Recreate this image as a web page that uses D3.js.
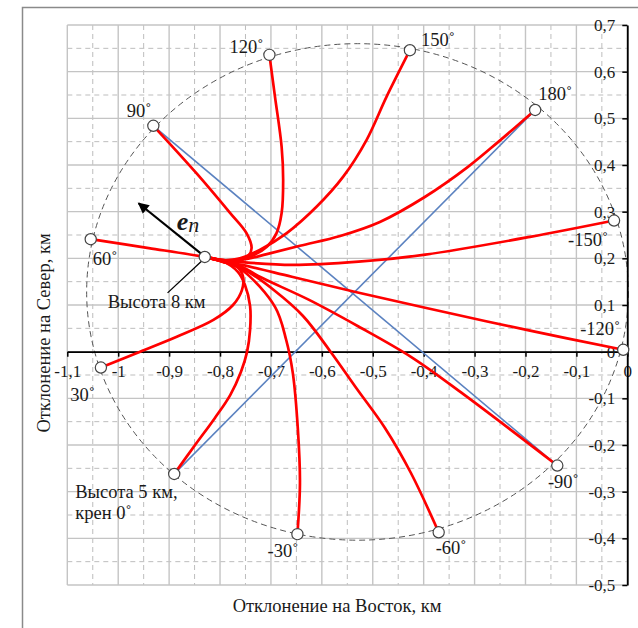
<!DOCTYPE html>
<html>
<head>
<meta charset="utf-8">
<script src="https://cdn.jsdelivr.net/npm/d3@7"></script>
<style>
  body { margin: 0; background: #fff; }
  svg { display: block; }
  text { font-family: "Liberation Serif", "Times New Roman", serif; fill: #1a1a1a; }
</style>
</head>
<body>
<svg id="chart" width="638" height="628"></svg>
<script>
// Axis ticks and their printed labels (comma decimal separator)
const xTicks = [-1.1, -1.0, -0.9, -0.8, -0.7, -0.6, -0.5, -0.4, -0.3, -0.2, -0.1, 0];
const xTickLabels = ["-1,1", "-1", "-0,9", "-0,8", "-0,7", "-0,6", "-0,5", "-0,4", "-0,3", "-0,2", "-0,1", "0"];
const yTicks = [-0.5, -0.4, -0.3, -0.2, -0.1, 0, 0.1, 0.2, 0.3, 0.4, 0.5, 0.6, 0.7];
const yTickLabels = ["-0,5", "-0,4", "-0,3", "-0,2", "-0,1", "0", "0,1", "0,2", "0,3", "0,4", "0,5", "0,6", "0,7"];
const xMinor = [-1.05, -0.95, -0.85, -0.75, -0.65, -0.55, -0.45, -0.35, -0.25, -0.15, -0.05];
const yMinor = [-0.45, -0.35, -0.25, -0.15, -0.05, 0.05, 0.15, 0.25, 0.35, 0.45, 0.55, 0.65];

// Point at 8 km altitude where all descents start (east, north), km
const startPoint = [-0.830, 0.203];
// Tip of the normal vector e_n drawn from the start point
const normalTip = [-0.960, 0.318];
// End of the leader line for the "Высота 8 км" caption
const captionLeader = [-0.903, 0.126];

// Guide circle through the 5 km landing points
const ringCenter = [-0.530, 0.128];
const ringRadius = 0.532;

// Bank angles of the trajectories
const bankAngles = ["60", "90", "120", "150", "180", "-150", "-120", "-90", "-60", "-30", "0", "30"];

// Ground tracks from 8 km down to 5 km (east, north), km
const track60 = [[-0.795, 0.195], [-0.830, 0.203], [-0.940, 0.222], [-1.054, 0.241]];
const track90 = [[-0.830, 0.203], [-0.795, 0.196], [-0.761, 0.198], [-0.744, 0.206], [-0.738, 0.222],
  [-0.748, 0.254], [-0.780, 0.297], [-0.846, 0.382], [-0.931, 0.484]];
const track120 = [[-0.830, 0.203], [-0.795, 0.196], [-0.741, 0.204], [-0.708, 0.225], [-0.689, 0.254],
  [-0.679, 0.297], [-0.676, 0.368], [-0.679, 0.439], [-0.692, 0.546], [-0.703, 0.636]];
const track150 = [[-0.830, 0.203], [-0.795, 0.196], [-0.761, 0.200], [-0.722, 0.218], [-0.669, 0.254],
  [-0.610, 0.311], [-0.558, 0.375], [-0.512, 0.454], [-0.473, 0.546], [-0.427, 0.646]];
const track180 = [[-0.830, 0.203], [-0.795, 0.196], [-0.755, 0.197], [-0.708, 0.209], [-0.643, 0.227],
  [-0.564, 0.248], [-0.486, 0.278], [-0.397, 0.332], [-0.313, 0.396], [-0.254, 0.449], [-0.181, 0.518]];
const trackM150 = [[-0.830, 0.203], [-0.795, 0.195], [-0.771, 0.193], [-0.659, 0.186], [-0.528, 0.193],
  [-0.397, 0.208], [-0.191, 0.246], [-0.026, 0.281]];
const trackM120 = [[-0.830, 0.203], [-0.795, 0.194], [-0.757, 0.186], [-0.659, 0.1605], [-0.538, 0.129],
  [-0.397, 0.094], [-0.191, 0.045], [-0.008, 0.004]];
const trackM90 = [[-0.830, 0.203], [-0.795, 0.193], [-0.757, 0.182], [-0.725, 0.162], [-0.627, 0.112],
  [-0.528, 0.054], [-0.4235, -0.012], [-0.322, -0.091], [-0.1375, -0.244]];
const trackM60 = [[-0.830, 0.203], [-0.795, 0.193], [-0.751, 0.175], [-0.692, 0.130], [-0.637, 0.0765],
  [-0.584, 0.0015], [-0.531, -0.080], [-0.476, -0.1635], [-0.425, -0.260], [-0.3705, -0.387]];
const trackM30 = [[-0.830, 0.203], [-0.795, 0.193], [-0.757, 0.175], [-0.692, 0.096], [-0.670, 0.025],
  [-0.657, -0.046], [-0.647, -0.168], [-0.643, -0.282], [-0.648, -0.391]];
const track0 = [[-0.830, 0.203], [-0.795, 0.194], [-0.765, 0.171], [-0.751, 0.143], [-0.741, 0.098],
  [-0.741, 0.0465], [-0.747, -0.001], [-0.759, -0.0435], [-0.780, -0.093], [-0.810, -0.142],
  [-0.849, -0.200], [-0.890, -0.262]];
const track30 = [[-0.830, 0.203], [-0.795, 0.195], [-0.769, 0.184], [-0.755, 0.162], [-0.757, 0.132],
  [-0.7745, 0.100], [-0.813, 0.068], [-0.885, 0.032], [-0.957, 0.000], [-1.034, -0.034]];

const tracks = [track60, track90, track120, track150, track180, trackM150,
  trackM120, trackM90, trackM60, trackM30, track0, track30];

// Straight reference lines between opposite landing points
const chords = [[track90[track90.length - 1], trackM90[trackM90.length - 1]],
                [track0[track0.length - 1], track180[track180.length - 1]]];

// ---------------------------------------------------------------------------
const svg = d3.select("#chart");
const x = d3.scaleLinear().domain([-1.1, 0]).range([67.3, 627.3]);
const y = d3.scaleLinear().domain([-0.5, 0.7]).range([585, 25]);
const [x0, x1] = x.range();
const [y0, y1] = y.range();
const labelSize = 18.5;

// outer chart frame
svg.append("rect").attr("x", 22.5).attr("y", 7.5).attr("width", 700).attr("height", 700)
  .attr("fill", "none").attr("stroke", "#8a8a8a").attr("stroke-width", 1.5);

// minor dashed grid
const grid = svg.append("g");
grid.selectAll(".vminor").data(xMinor).join("line")
  .attr("x1", d => x(d)).attr("x2", d => x(d)).attr("y1", y1).attr("y2", y0)
  .attr("stroke", "#bdbdbd").attr("stroke-width", 1).attr("stroke-dasharray", "5,4");
grid.selectAll(".hminor").data(yMinor).join("line")
  .attr("y1", d => y(d)).attr("y2", d => y(d)).attr("x1", x0).attr("x2", x1)
  .attr("stroke", "#bdbdbd").attr("stroke-width", 1).attr("stroke-dasharray", "5,4");
// major solid grid
grid.selectAll(".vmajor").data(xTicks).join("line")
  .attr("x1", d => x(d)).attr("x2", d => x(d)).attr("y1", y1).attr("y2", y0)
  .attr("stroke", "#c4c4c4").attr("stroke-width", 1.4);
grid.selectAll(".hmajor").data(yTicks).join("line")
  .attr("y1", d => y(d)).attr("y2", d => y(d)).attr("x1", x0).attr("x2", x1)
  .attr("stroke", "#c4c4c4").attr("stroke-width", 1.4);

// guide circle
svg.append("ellipse")
  .attr("cx", x(ringCenter[0])).attr("cy", y(ringCenter[1]))
  .attr("rx", x(ringCenter[0] + ringRadius) - x(ringCenter[0]))
  .attr("ry", y(ringCenter[1]) - y(ringCenter[1] + ringRadius))
  .attr("fill", "none").attr("stroke", "#555").attr("stroke-width", 1)
  .attr("stroke-dasharray", "6,4");

// axes crossing at zero
const xAxis = d3.axisBottom(x).tickValues(xTicks).tickFormat((d, i) => xTickLabels[i])
  .tickSizeInner(5).tickSizeOuter(0).tickPadding(8);
const gx = svg.append("g").attr("transform", `translate(0,${y(0)})`).call(xAxis);
const yAxis = d3.axisLeft(y).tickValues(yTicks).tickFormat((d, i) => yTickLabels[i])
  .tickSizeInner(5).tickSizeOuter(0).tickPadding(7);
const gy = svg.append("g").attr("transform", `translate(${x(0)},0)`).call(yAxis);
[gx, gy].forEach(g => {
  g.select(".domain").attr("stroke", "#000").attr("stroke-width", 1.8);
  g.selectAll(".tick line").attr("stroke", "#000").attr("stroke-width", 1.5);
  g.selectAll(".tick text").attr("font-family", "Liberation Serif, serif").attr("font-size", 17)
    .attr("fill", "#1a1a1a");
});

// chord lines
svg.append("g").selectAll("line").data(chords).join("line")
  .attr("x1", d => x(d[0][0])).attr("y1", d => y(d[0][1]))
  .attr("x2", d => x(d[1][0])).attr("y2", d => y(d[1][1]))
  .attr("stroke", "#5b82c0").attr("stroke-width", 1.6);

// trajectories
const line = d3.line().x(d => x(d[0])).y(d => y(d[1])).curve(d3.curveCatmullRom.alpha(0.5));
svg.append("g").selectAll("path").data(tracks).join("path")
  .attr("d", line).attr("fill", "none").attr("stroke", "#ff0000")
  .attr("stroke-width", 2.7).attr("stroke-linecap", "round");

// normal vector e_n
svg.append("defs").append("marker").attr("id", "head")
  .attr("viewBox", "0 0 10 10").attr("refX", 9).attr("refY", 5)
  .attr("markerWidth", 6).attr("markerHeight", 5).attr("markerUnits", "strokeWidth")
  .attr("orient", "auto")
  .append("path").attr("d", "M0,0 L10,5 L0,10 Z").attr("fill", "#000");
svg.append("line")
  .attr("x1", x(startPoint[0]) - 4).attr("y1", y(startPoint[1]) - 3.5)
  .attr("x2", x(normalTip[0])).attr("y2", y(normalTip[1]))
  .attr("stroke", "#000").attr("stroke-width", 2.2).attr("marker-end", "url(#head)");
const en = svg.append("text").attr("x", x(startPoint[0]) - 28).attr("y", y(startPoint[1]) - 27);
en.append("tspan").text("e").attr("font-weight", "bold").attr("font-style", "italic").attr("font-size", 26);
en.append("tspan").text("n").attr("font-style", "italic").attr("font-size", 22).attr("dy", 2);

// caption leader for the 8 km point
svg.append("line")
  .attr("x1", x(startPoint[0]) - 3).attr("y1", y(startPoint[1]) + 4)
  .attr("x2", x(captionLeader[0])).attr("y2", y(captionLeader[1]))
  .attr("stroke", "#000").attr("stroke-width", 1.3);

// endpoint markers
const ends = tracks.map(t => t[t.length - 1]);
svg.append("g").selectAll("circle").data(ends.concat([startPoint])).join("circle")
  .attr("cx", d => x(d[0])).attr("cy", d => y(d[1])).attr("r", 5.6)
  .attr("fill", "#fff").attr("stroke", "#444").attr("stroke-width", 1.2);

// bank angle labels, placed around each landing point (pixel offsets)
const labelLayout = [
  { dx: 2, dy: 26, anchor: "start" },    // 60
  { dx: -2, dy: -9, anchor: "end" },     // 90
  { dx: -6, dy: -2, anchor: "end" },     // 120
  { dx: 11, dy: -4, anchor: "start" },   // 150
  { dx: 3, dy: -10, anchor: "start" },   // 180
  { dx: -6, dy: 25, anchor: "end" },     // -150
  { dx: -3, dy: -15, anchor: "end" },    // -120
  { dx: 6, dy: 22, anchor: "middle" },   // -90
  { dx: -3, dy: 22, anchor: "start" },   // -60
  { dx: 1, dy: 23, anchor: "end" },      // -30
  null,                                  // 0 has its own caption
  { dx: -6, dy: 33, anchor: "end" }      // 30
];
bankAngles.forEach((a, i) => {
  const L = labelLayout[i];
  if (!L) return;
  const p = ends[i];
  svg.append("text").attr("x", x(p[0]) + L.dx).attr("y", y(p[1]) + L.dy)
    .attr("text-anchor", L.anchor).attr("font-size", labelSize).text(a + "˚");
});

// captions
const p0 = ends[10];
svg.append("text").attr("x", x(p0[0]) - 99).attr("y", y(p0[1]) + 24).attr("font-size", labelSize)
  .text("Высота 5 км,");
svg.append("text").attr("x", x(p0[0]) - 99).attr("y", y(p0[1]) + 45).attr("font-size", labelSize)
  .text("крен 0˚");
svg.append("text").attr("x", x(startPoint[0]) - 97).attr("y", y(startPoint[1]) + 51).attr("font-size", labelSize)
  .text("Высота 8 км");

// axis titles
svg.append("text").attr("x", 337).attr("y", 612).attr("text-anchor", "middle").attr("font-size", 18.5)
  .text("Отклонение на Восток, км");
svg.append("text").attr("transform", "translate(50,333) rotate(-90)").attr("text-anchor", "middle")
  .attr("font-size", 18.5).text("Отклонение на Север, км");
</script>
</body>
</html>
